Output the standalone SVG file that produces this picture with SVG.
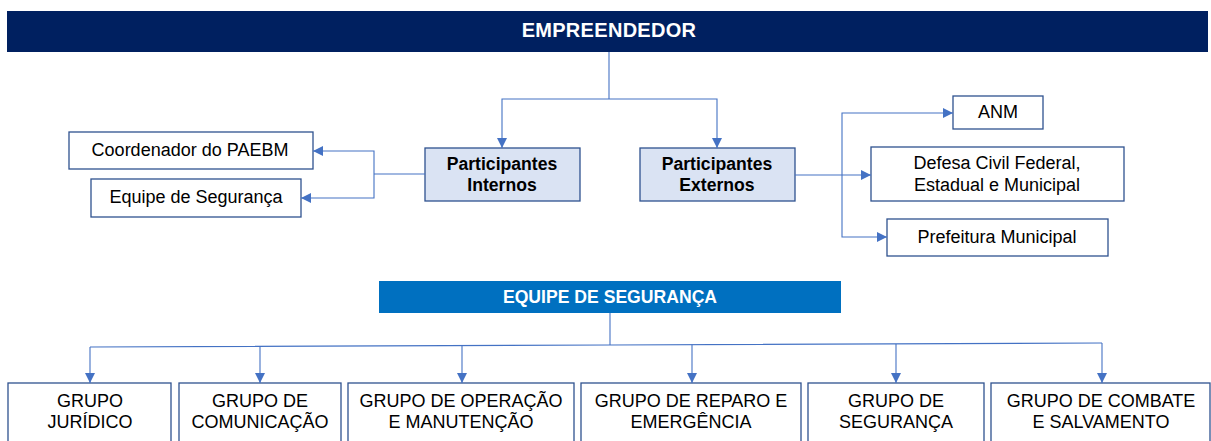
<svg xmlns="http://www.w3.org/2000/svg" width="1211" height="441" viewBox="0 0 1211 441">
<defs>
<marker id="ah" viewBox="0 0 10 10" refX="10" refY="5" markerWidth="10" markerHeight="10" markerUnits="userSpaceOnUse" orient="auto">
<path d="M0,0 L10,5 L0,10 z" fill="#4472c4"/>
</marker>
</defs>
<style>
.bg{fill:#ffffff}
.box{fill:#ffffff;stroke:#2f528f;stroke-width:1.3}
.pbox{fill:#dae3f3;stroke:#2f528f;stroke-width:1.3}
.t{font-family:"Liberation Sans",Arial,sans-serif;font-size:18px;fill:#000;text-anchor:middle}
.tb{font-family:"Liberation Sans",Arial,sans-serif;font-size:17.6px;font-weight:bold;fill:#000;text-anchor:middle}
.tw{font-family:"Liberation Sans",Arial,sans-serif;font-weight:bold;fill:#fff;text-anchor:middle}
.c{fill:none;stroke:#4472c4;stroke-width:1.1}
.ca{fill:none;stroke:#4472c4;stroke-width:1.1;marker-end:url(#ah)}
</style>
<rect class="bg" x="0" y="0" width="1211" height="441"/>

<g id="empreendedor">
<rect x="7" y="11" width="1201" height="41" fill="#002060"/>
<text class="tw" x="609" y="37" font-size="20" letter-spacing="0.3">EMPREENDEDOR</text>
</g>

<g id="participantes-internos">
<rect class="pbox" x="425" y="148" width="155" height="53"/>
<text class="tb" x="502" y="170">Participantes</text>
<text class="tb" x="502" y="191">Internos</text>
</g>

<g id="participantes-externos">
<rect class="pbox" x="640" y="148" width="155" height="53"/>
<text class="tb" x="717" y="170">Participantes</text>
<text class="tb" x="717" y="191">Externos</text>
</g>

<g id="coordenador">
<rect class="box" x="69" y="132" width="244" height="37"/>
<text class="t" x="190" y="156">Coordenador do PAEBM</text>
</g>

<g id="equipe-seguranca-int">
<rect class="box" x="91" y="179" width="210" height="38"/>
<text class="t" x="196" y="203">Equipe de Segurança</text>
</g>

<g id="anm">
<rect class="box" x="953" y="96" width="90" height="33"/>
<text class="t" x="998" y="118">ANM</text>
</g>

<g id="defesa-civil">
<rect class="box" x="871" y="147" width="253" height="54"/>
<text class="t" x="997" y="169">Defesa Civil Federal,</text>
<text class="t" x="997" y="191">Estadual e Municipal</text>
</g>

<g id="prefeitura">
<rect class="box" x="887" y="219" width="221" height="37"/>
<text class="t" x="997" y="243">Prefeitura Municipal</text>
</g>

<g id="equipe-seguranca">
<rect x="379" y="281" width="462" height="32" fill="#0070c0"/>
<text class="tw" x="610" y="303" font-size="17.6">EQUIPE DE SEGURANÇA</text>
</g>

<g id="grupo-juridico">
<rect class="box" x="8" y="383" width="163" height="70"/>
<text class="t" x="90" y="407">GRUPO</text>
<text class="t" x="90" y="428">JURÍDICO</text>
</g>

<g id="grupo-comunicacao">
<rect class="box" x="179" y="383" width="162" height="70"/>
<text class="t" x="260" y="407">GRUPO DE</text>
<text class="t" x="260" y="428">COMUNICAÇÃO</text>
</g>

<g id="grupo-operacao">
<rect class="box" x="348" y="383" width="226" height="70"/>
<text class="t" x="461" y="407">GRUPO DE OPERAÇÃO</text>
<text class="t" x="461" y="428">E MANUTENÇÃO</text>
</g>

<g id="grupo-reparo">
<rect class="box" x="581" y="383" width="220" height="70"/>
<text class="t" x="691" y="407">GRUPO DE REPARO E</text>
<text class="t" x="691" y="428">EMERGÊNCIA</text>
</g>

<g id="grupo-seguranca">
<rect class="box" x="808" y="383" width="176" height="70"/>
<text class="t" x="896" y="407">GRUPO DE</text>
<text class="t" x="896" y="428">SEGURANÇA</text>
</g>

<g id="grupo-combate">
<rect class="box" x="991" y="383" width="219" height="70"/>
<text class="t" x="1101" y="407">GRUPO DE COMBATE</text>
<text class="t" x="1101" y="428">E SALVAMENTO</text>
</g>

<g id="connectors">
<path class="c" d="M609,52 V99"/>
<path class="ca" d="M609,99 H502 V148"/>
<path class="ca" d="M609,99 H717 V148"/>
<path class="c" d="M425,174 H374"/>
<path class="ca" d="M374,174 V151 H313"/>
<path class="ca" d="M374,174 V198 H301"/>
<path class="ca" d="M795,175 H871"/>
<path class="ca" d="M842,175 V113 H953"/>
<path class="ca" d="M842,175 V237 H887"/>
<path class="c" d="M610,313 V345"/>
<path class="c" d="M90,347 L610,345 L1102,343"/>
<path class="ca" d="M90,347 V383"/>
<path class="ca" d="M260,346.4 V383"/>
<path class="ca" d="M462,345.6 V383"/>
<path class="ca" d="M692,344.7 V383"/>
<path class="ca" d="M896,343.9 V383"/>
<path class="ca" d="M1102,343 V383"/>
</g>
</svg>
